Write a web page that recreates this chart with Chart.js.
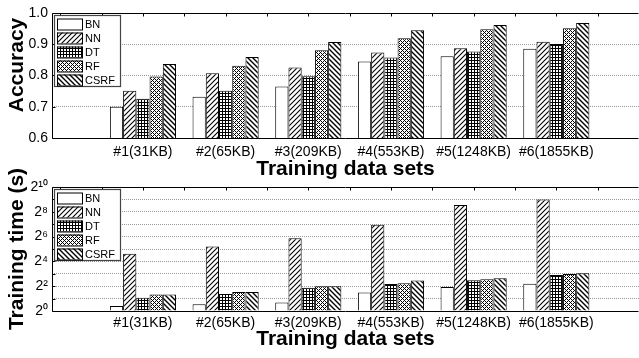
<!DOCTYPE html>
<html>
<head>
<meta charset="utf-8">
<script src="https://cdn.jsdelivr.net/npm/chart.js@4.4.1/dist/chart.umd.min.js"></script>
<style>
  html, body { margin: 0; padding: 0; background: #fff; overflow: hidden; }
  #wrap { position: relative; width: 639px; height: 358px; }
  canvas { position: absolute; left: 0; top: 0; }
</style>
</head>
<body>
<div id="wrap">
  <canvas id="accChart" width="639" height="358"></canvas>
  <canvas id="timeChart" width="639" height="358"></canvas>
</div>
<script>
// Training data sets (x categories)
const dataSets = ['#1(31KB)', '#2(65KB)', '#3(209KB)', '#4(553KB)', '#5(1248KB)', '#6(1855KB)'];
const methods = ['BN', 'NN', 'DT', 'RF', 'CSRF'];

// Accuracy per method
const accBN   = [0.700, 0.732, 0.765, 0.845, 0.862, 0.886];
const accNN   = [0.751, 0.807, 0.826, 0.874, 0.887, 0.908];
const accDT   = [0.726, 0.751, 0.798, 0.858, 0.877, 0.901];
const accRF   = [0.797, 0.831, 0.881, 0.919, 0.948, 0.951];
const accCSRF = [0.837, 0.859, 0.907, 0.945, 0.962, 0.968];

// Training time in seconds per method
const timeBN   = [1.33, 1.45, 1.6, 2.8, 3.8, 4.6];
const timeNN   = [24.7, 37, 58, 124, 374, 512];
const timeDT   = [2.1, 2.6, 3.65, 4.55, 5.6, 7.5];
const timeRF   = [2.5, 2.9, 4.0, 4.7, 5.9, 7.9];
const timeCSRF = [2.5, 2.9, 4.0, 5.5, 6.2, 8.2];

// Tick labels
const accTicks = [0.6, 0.7, 0.8, 0.9, 1.0];
const timeExpTicks = [0, 2, 4, 6, 8, 10];

const FONT = 'Liberation Sans, Arial, Helvetica, sans-serif';
const SUP = { '0': '\u2070', '1': '\u00b9', '2': '\u00b2', '4': '\u2074', '6': '\u2076', '8': '\u2078' };
const sup = n => String(n).split('').map(d => SUP[d]).join('');

// Hatch fills like the old MATLAB patterns
function makePattern(ctx, kind) {
    const c = document.createElement('canvas');
    const s = kind === 'grid' ? 3 : (kind === 'cross' ? 4 : 5);
    c.width = c.height = s;
    const g = c.getContext('2d');
    g.fillStyle = '#fff';
    g.fillRect(0, 0, s, s);
    g.fillStyle = '#000';
    g.strokeStyle = '#000';
    if (kind === 'grid') {
        g.fillRect(0, 0, s, 1);
        g.fillRect(0, 0, 1, s);
    } else if (kind === 'cross') {
        for (let x = 0; x < s; x++) {
            for (let y = 0; y < s; y++) {
                if ((x + y) % s === 0 || (x - y + s) % s === 0) g.fillRect(x, y, 1, 1);
            }
        }
    } else if (kind === 'up') {
        g.lineWidth = 1.1;
        g.beginPath();
        g.moveTo(0, s); g.lineTo(s, 0);
        g.moveTo(-1, 1); g.lineTo(1, -1);
        g.moveTo(s - 1, s + 1); g.lineTo(s + 1, s - 1);
        g.stroke();
    } else if (kind === 'down') {
        g.lineWidth = 1.4;
        g.beginPath();
        g.moveTo(0, 0); g.lineTo(s, s);
        g.moveTo(-1, s - 1); g.lineTo(1, s + 1);
        g.moveTo(s - 1, -1); g.lineTo(s + 1, 1);
        g.stroke();
    }
    return ctx.createPattern(c, 'repeat');
}

function fills(ctx) {
    return ['#ffffff', makePattern(ctx, 'up'), makePattern(ctx, 'grid'), makePattern(ctx, 'cross'), makePattern(ctx, 'down')];
}

// Axis box, inward ticks and the in-plot legend
const framePlugin = {
    id: 'frame',
    afterDraw(chart) {
        const { ctx, chartArea: a, scales: { x, y } } = chart;
        const L = Math.round(a.left) + 0.5, R = Math.round(a.right) - 0.5;
        const T = Math.round(a.top) + 0.5, B = Math.round(a.bottom) + 0.5;
        ctx.save();
        ctx.strokeStyle = '#000';
        ctx.lineWidth = 1;
        ctx.beginPath();
        ctx.moveTo(R, T); ctx.lineTo(L, T); ctx.lineTo(L, B); ctx.lineTo(R, B);
        for (let v = 0; v <= 7; v += 0.5) {
            const px = Math.round(x.getPixelForValue(v)) + 0.5;
            if (px > L && px < R) { ctx.moveTo(px, T); ctx.lineTo(px, T + 3); }
        }
        y.ticks.forEach(t => {
            const py = Math.round(y.getPixelForValue(t.value)) + 0.5;
            ctx.moveTo(L, py); ctx.lineTo(L + 3, py);
        });
        ctx.stroke();

        // legend
        const bx = a.left + 2, by = a.top + 2, bw = 66, bh = 71;
        ctx.fillStyle = '#fff';
        ctx.fillRect(bx, by, bw, bh);
        ctx.strokeStyle = '#444';
        ctx.lineWidth = 1.2;
        ctx.strokeRect(bx + 0.5, by + 0.5, bw, bh);
        ctx.font = '11px ' + FONT;
        ctx.textBaseline = 'middle';
        ctx.textAlign = 'left';
        chart.data.datasets.forEach((ds, i) => {
            const sy = by + 3.5 + i * 14;
            ctx.fillStyle = ds.backgroundColor;
            ctx.fillRect(bx + 3, sy, 25, 11);
            ctx.strokeStyle = '#000';
            ctx.lineWidth = 1;
            ctx.strokeRect(bx + 3.5, sy + 0.5, 25, 11);
            ctx.fillStyle = '#000';
            ctx.fillText(ds.label, bx + 31, sy + 6);
        });
        ctx.restore();
    }
};

function xScale(axisHeight, tickPad, titlePad) {
    return {
        type: 'linear',
        min: -0.1,
        max: 7,
        offset: false,
        grid: { display: false, drawTicks: false },
        border: { display: false },
        afterBuildTicks: s => { s.ticks = dataSets.map((_, i) => ({ value: i + 1 })); },
        afterFit: s => { s.height = axisHeight; },
        ticks: {
            autoSkip: false,
            maxRotation: 0,
            padding: tickPad,
            color: '#000',
            font: { family: FONT, size: 14 },
            callback: v => dataSets[Math.round(v) - 1]
        },
        title: {
            display: true,
            text: 'Training data sets',
            color: '#000',
            font: { family: FONT, size: 21, weight: 'bold' },
            padding: { top: 0, bottom: titlePad }
        }
    };
}

function datasetsFor(ctx, series, transform) {
    const f = fills(ctx);
    return series.map((vals, k) => ({
        label: methods[k],
        data: vals.map((v, i) => ({ x: i + 1, y: transform(v) })),
        backgroundColor: f[k],
        borderColor: '#000',
        borderWidth: 1,
        categoryPercentage: 0.8,
        barPercentage: 1.0
    }));
}

const dotted = (lo, hi) => ({
    drawTicks: false,
    color: c => (c.tick && (c.tick.value === lo || c.tick.value === hi)) ? 'rgba(0,0,0,0)' : '#999',
    lineWidth: 1
});

// Accuracy chart (top)
const accCtx = document.getElementById('accChart').getContext('2d');
new Chart(accCtx, {
    type: 'bar',
    data: { datasets: datasetsFor(accCtx, [accBN, accNN, accDT, accRF, accCSRF], v => v) },
    options: {
        responsive: false,
        animation: false,
        layout: { padding: { top: 13, bottom: 168, left: 0, right: 0 } },
        plugins: { legend: { display: false }, tooltip: { enabled: false } },
        scales: {
            x: xScale(52, 6, 8),
            y: {
                min: 0.6,
                max: 1.0,
                afterBuildTicks: s => { s.ticks = accTicks.map(v => ({ value: v })); },
                afterFit: s => { s.width = 52; },
                grid: dotted(0.6, 1.0),
                border: { display: false, dash: [1, 1] },
                ticks: {
                    autoSkip: false,
                    padding: 4,
                    color: '#000',
                    font: { family: FONT, size: 14 },
                    callback: v => v.toFixed(1)
                },
                title: {
                    display: true,
                    text: '\u2003Accuracy',
                    color: '#000',
                    font: { family: FONT, size: 21, weight: 'bold' },
                    padding: { top: 5, bottom: 0 }
                }
            }
        }
    },
    plugins: [framePlugin]
});

// Training time chart (bottom), log2 axis
const timeCtx = document.getElementById('timeChart').getContext('2d');
new Chart(timeCtx, {
    type: 'bar',
    data: { datasets: datasetsFor(timeCtx, [timeBN, timeNN, timeDT, timeRF, timeCSRF], v => Math.log2(v)) },
    options: {
        responsive: false,
        animation: false,
        layout: { padding: { top: 187, bottom: 0, left: 0, right: 0 } },
        plugins: { legend: { display: false }, tooltip: { enabled: false } },
        scales: {
            x: xScale(47, 4, 6),
            y: {
                min: 0,
                max: 10,
                afterBuildTicks: s => {
                    const t = [];
                    for (let e = 0; e <= 10; e++) t.push({ value: e });
                    s.ticks = t;
                },
                afterFit: s => { s.width = 52; },
                grid: dotted(0, 10),
                border: { display: false, dash: [1, 1] },
                ticks: {
                    autoSkip: false,
                    padding: 4,
                    color: '#000',
                    font: { family: FONT, size: 14 },
                    callback: v => timeExpTicks.includes(v) ? '2' + sup(v) : ''
                },
                title: {
                    display: true,
                    text: 'Training time (s)',
                    color: '#000',
                    font: { family: FONT, size: 21, weight: 'bold' },
                    padding: { top: 5, bottom: 0 }
                }
            }
        }
    },
    plugins: [framePlugin]
});
</script>
</body>
</html>
